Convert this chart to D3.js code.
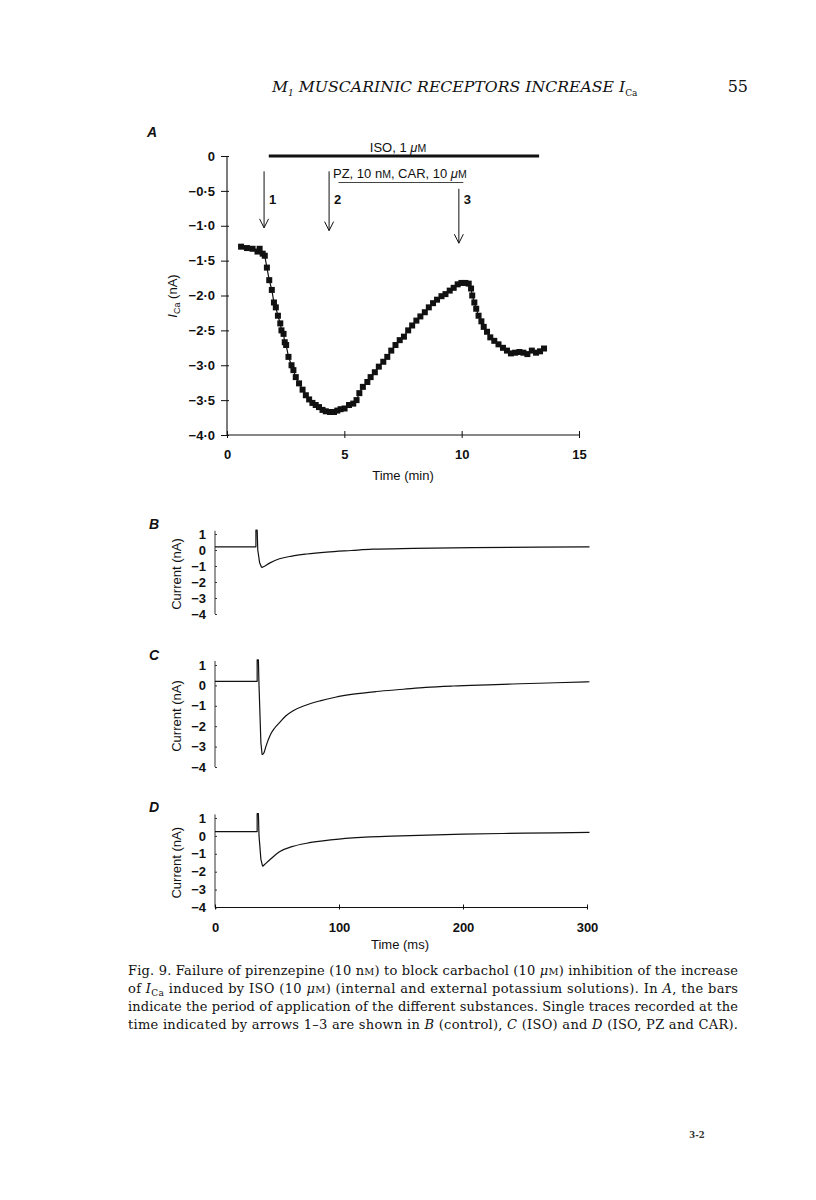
<!DOCTYPE html>
<html><head><meta charset="utf-8">
<script src="https://cdn.jsdelivr.net/npm/d3@7"></script>
<style>
body{margin:0;background:#fff;}
svg{display:block;}
.sans{font-family:"Liberation Sans",Arial,sans-serif;}
.serif{font-family:"DejaVu Serif",serif;}
</style></head>
<body>
<svg id="c" width="816" height="1200"></svg>
<script>
// ---------- Panel A data: I_Ca (nA) vs time (min) ----------
const aTime = [0.6,0.85,1.09,1.3,1.39,1.52,1.61,1.7,1.8,1.91,2.0,2.08,2.17,2.27,2.32,2.41,2.46,2.52,2.62,2.75,2.83,2.93,3.07,3.22,3.36,3.5,3.64,3.78,3.92,4.07,4.21,4.39,4.56,4.7,4.84,5.01,5.2,5.38,5.52,5.64,5.79,5.98,6.12,6.3,6.47,6.66,6.83,7.0,7.18,7.36,7.54,7.72,7.89,8.07,8.24,8.43,8.6,8.78,8.95,9.14,9.31,9.49,9.66,9.83,9.99,10.16,10.3,10.4,10.45,10.54,10.62,10.72,10.84,10.94,11.08,11.22,11.39,11.57,11.76,11.93,12.1,12.28,12.46,12.63,12.8,12.99,13.17,13.34,13.51];
const aCurrent = [-1.3,-1.32,-1.33,-1.37,-1.33,-1.4,-1.43,-1.6,-1.78,-1.92,-2.1,-2.17,-2.29,-2.4,-2.5,-2.55,-2.67,-2.71,-2.88,-3.0,-3.07,-3.17,-3.26,-3.35,-3.43,-3.49,-3.54,-3.57,-3.6,-3.64,-3.66,-3.67,-3.67,-3.65,-3.63,-3.62,-3.57,-3.55,-3.5,-3.4,-3.31,-3.24,-3.17,-3.1,-3.02,-2.95,-2.88,-2.79,-2.71,-2.64,-2.59,-2.5,-2.43,-2.36,-2.3,-2.24,-2.17,-2.11,-2.06,-2.01,-1.98,-1.93,-1.89,-1.84,-1.82,-1.82,-1.83,-1.9,-2.0,-2.1,-2.19,-2.29,-2.37,-2.45,-2.52,-2.6,-2.65,-2.7,-2.75,-2.79,-2.83,-2.82,-2.81,-2.82,-2.84,-2.79,-2.82,-2.8,-2.76];
const aYTicks = [0,-0.5,-1.0,-1.5,-2.0,-2.5,-3.0,-3.5,-4.0];
const aXTicks = [0,5,10,15];
const isoBar = [1.78,13.3];      // ISO, 1 µM application (min)
const pzBar = [4.75,10.07];      // PZ + CAR application (min)
const arrowTimes = [1.58,4.35,9.88];
const arrowLabels = ["1","2","3"];

// ---------- Panels B, C, D: single traces (ms, nA) ----------
const bTime = [0,33,33,34,34.5,36,37.6,40,44,52,62,74,90,110,127,160,208,260,302];
const bCurrent = [0.2,0.2,1.25,1.25,0,-0.8,-1.1,-1.02,-0.82,-0.55,-0.38,-0.25,-0.13,-0.03,0.05,0.1,0.15,0.18,0.2];
const cTime = [0,34,34,35,35.5,37,38,39.5,41,44.4,48,52.4,57,63,72,84.7,97,111.5,130,152,170,192,220,246,275,302];
const cCurrent = [0.2,0.2,1.25,1.25,0,-2.8,-3.4,-3.3,-3.0,-2.45,-2.1,-1.8,-1.5,-1.24,-1.0,-0.76,-0.58,-0.43,-0.3,-0.19,-0.1,-0.03,0.03,0.08,0.13,0.18];
const dTime = [0,34,34,35,35.5,37,38.4,40,44,52,62,74,87,100,125,150,200,250,302];
const dCurrent = [0.24,0.24,1.25,1.25,0,-1.3,-1.7,-1.6,-1.35,-0.88,-0.6,-0.41,-0.28,-0.18,-0.06,0.0,0.1,0.15,0.2];
const traceYTicks = [1,0,-1,-2,-3,-4];
const traceXTicks = [0,100,200,300];

const captionLines = [
  [["Fig. 9. Failure of pirenzepine (10 n"],["M","sc"],[") to block carbachol (10 "],["μ","it"],["M","sc"],[") inhibition of the increase"]],
  [["of "],["I","it"],["Ca","sub"],[" induced by ISO (10 "],["μ","it"],["M","sc"],[") (internal and external potassium solutions). In "],["A","it"],[", the bars"]],
  [["indicate the period of application of the different substances. Single traces recorded at the"]],
  [["time indicated by arrows 1–3 are shown in "],["B","it"],[" (control), "],["C","it"],[" (ISO) and "],["D","it"],[" (ISO, PZ and CAR)."]]
];

const svg = d3.select("#c");
const ink = "#111";
const SANS = "Liberation Sans,Arial,sans-serif";

// ---------- header ----------
const hdr = svg.append("text").attr("class","serif").attr("x",272).attr("y",92)
  .attr("font-size",15.7).attr("font-style","italic").attr("fill",ink);
hdr.append("tspan").text("M");
hdr.append("tspan").attr("font-size",9).attr("dy",4).text("1");
hdr.append("tspan").attr("dy",-4).text(" MUSCARINIC RECEPTORS INCREASE I");
hdr.append("tspan").attr("font-size",9).attr("dy",4).attr("font-style","normal").text("Ca");
svg.append("text").attr("class","serif").attr("x",748).attr("y",92).attr("text-anchor","end")
  .attr("font-size",16).attr("fill",ink).text("55");

// ---------- Panel A ----------
const xA = d3.scaleLinear().domain([0,15]).range([227,579]);
const yA = d3.scaleLinear().domain([0,-4]).range([156,435]);
const fmtDot = d => d===0 ? "0" : ("−" + Math.abs(d).toFixed(1).replace(".","·"));

const gA = svg.append("g").attr("class","sans");
gA.append("text").attr("x",147).attr("y",137).attr("font-size",14).attr("font-weight","bold")
  .attr("font-style","italic").attr("fill",ink).text("A");

const yAxA = gA.append("g").attr("transform",`translate(${xA(0)},0)`)
  .call(d3.axisLeft(yA).tickValues(aYTicks).tickFormat(fmtDot).tickSize(6).tickPadding(6));
yAxA.select(".domain").attr("stroke",ink).attr("stroke-width",1.1).attr("d",`M0,${yA(0)}V${yA(-4)}`);
yAxA.selectAll(".tick line").attr("stroke",ink).attr("x2",-6).attr("x1",2);
yAxA.selectAll(".tick text").attr("font-size",13).attr("font-weight","bold").attr("fill",ink).attr("font-family",SANS);

const xAxA = gA.append("g").attr("transform",`translate(0,${yA(-4)})`)
  .call(d3.axisBottom(xA).tickValues(aXTicks).tickFormat(d3.format("d")).tickSize(0).tickPadding(15));
xAxA.select(".domain").attr("stroke",ink).attr("stroke-width",1.1).attr("d",`M${xA(0)},0H${xA(15)}`);
xAxA.selectAll(".tick text").attr("font-size",13).attr("fill",ink).attr("font-weight","bold").attr("font-family",SANS);
xAxA.selectAll(".tick").append("line").attr("y1",-4).attr("y2",3).attr("stroke",ink);
gA.append("text").attr("x",403).attr("y",480).attr("text-anchor","middle").attr("font-size",13).attr("fill",ink).text("Time (min)");

const yl = gA.append("text").attr("transform","translate(177,296) rotate(-90)").attr("text-anchor","middle")
  .attr("font-size",13).attr("fill",ink);
yl.append("tspan").attr("font-style","italic").text("I");
yl.append("tspan").attr("font-size",9).attr("dy",3).text("Ca");
yl.append("tspan").attr("dy",-3).text(" (nA)");

// bars
gA.append("line").attr("x1",xA(isoBar[0])).attr("x2",xA(isoBar[1])).attr("y1",yA(0)).attr("y2",yA(0))
  .attr("stroke",ink).attr("stroke-width",3);
gA.append("line").attr("x1",xA(pzBar[0])).attr("x2",xA(pzBar[1])).attr("y1",yA(-0.38)).attr("y2",yA(-0.38))
  .attr("stroke","#444").attr("stroke-width",1.1);
const iso = gA.append("text").attr("x",398).attr("y",152).attr("text-anchor","middle").attr("font-size",13).attr("fill",ink);
iso.append("tspan").text("ISO, 1 ");
iso.append("tspan").attr("font-style","italic").text("μ");
iso.append("tspan").attr("font-size",10.5).text("M");
const pz = gA.append("text").attr("x",333).attr("y",178).attr("font-size",13).attr("fill",ink);
pz.append("tspan").text("PZ, 10 n");
pz.append("tspan").attr("font-size",10.5).text("M");
pz.append("tspan").text(", CAR, 10 ");
pz.append("tspan").attr("font-style","italic").text("μ");
pz.append("tspan").attr("font-size",10.5).text("M");

// arrows
const arrTop = [-0.22,-0.22,-0.47], arrBot = [-1.03,-1.07,-1.25];
arrowTimes.forEach((t,i)=>{
  const x = xA(t), y1 = yA(arrTop[i]), y2 = yA(arrBot[i]);
  gA.append("line").attr("x1",x).attr("x2",x).attr("y1",y1).attr("y2",y2).attr("stroke",ink).attr("stroke-width",1);
  gA.append("path").attr("d",`M${x-4.5},${y2-9}L${x},${y2}L${x+4.5},${y2-9}`).attr("fill","none").attr("stroke",ink).attr("stroke-width",1);
  gA.append("text").attr("x",x+5).attr("y",204).attr("font-size",13).attr("font-weight","bold").attr("fill",ink).text(arrowLabels[i]);
});

// data
const aData = aTime.map((t,i)=>({t,v:aCurrent[i]}));
gA.append("path").datum(aData).attr("d",d3.line().x(d=>xA(d.t)).y(d=>yA(d.v)))
  .attr("fill","none").attr("stroke",ink).attr("stroke-width",1.2);
gA.selectAll("rect.pt").data(aData).join("rect").attr("class","pt")
  .attr("x",d=>xA(d.t)-3).attr("y",d=>yA(d.v)-3).attr("width",6).attr("height",6).attr("fill",ink);

// ---------- Panels B, C, D ----------
const xT = d3.scaleLinear().domain([0,300]).range([215,587]);
const panels = [
  {lab:"B", time:bTime, cur:bCurrent, top:534, bot:614, labY:529},
  {lab:"C", time:cTime, cur:cCurrent, top:665, bot:767, labY:660},
  {lab:"D", time:dTime, cur:dCurrent, top:818, bot:907.5, labY:812}
];
panels.forEach((p,pi)=>{
  const y = d3.scaleLinear().domain([1,-4]).range([p.top,p.bot]);
  const g = svg.append("g").attr("class","sans");
  g.append("text").attr("x",149).attr("y",p.labY).attr("font-size",14).attr("font-weight","bold")
    .attr("font-style","italic").attr("fill",ink).text(p.lab);
  const ax = g.append("g").attr("transform",`translate(${xT(0)},0)`)
    .call(d3.axisLeft(y).tickValues(traceYTicks).tickFormat(d=>d<0?"−"+Math.abs(d):String(d)).tickSize(0).tickPadding(9));
  ax.select(".domain").attr("stroke","#333").attr("stroke-width",1).attr("d",`M0,${y(1.2)}V${y(-4)}`);
  ax.selectAll(".tick").append("line").attr("x1",0).attr("x2",2).attr("stroke","#333");
  ax.selectAll(".tick text").attr("font-size",13).attr("font-weight","bold").attr("fill",ink).attr("font-family",SANS);
  g.append("text").attr("transform",`translate(181,${(y(1)+y(-4))/2}) rotate(-90)`).attr("text-anchor","middle")
    .attr("font-size",13).attr("fill",ink).text("Current (nA)");
  const data = p.time.map((t,i)=>({t,v:p.cur[i]}));
  // trough index: minimum current
  const k = d3.minIndex(data, d=>d.v);
  const lineLin = d3.line().x(d=>xT(d.t)).y(d=>y(d.v));
  const lineSm = d3.line().x(d=>xT(d.t)).y(d=>y(d.v)).curve(d3.curveMonotoneX);
  g.append("path").datum(data.slice(0,k+1)).attr("d",lineLin)
    .attr("fill","none").attr("stroke",ink).attr("stroke-width",1.2).attr("stroke-linejoin","round");
  g.append("path").datum(data.slice(k)).attr("d",lineSm)
    .attr("fill","none").attr("stroke",ink).attr("stroke-width",1.2);
  if(pi===2){
    const xa = g.append("g").attr("transform",`translate(0,${y(-4)})`)
      .call(d3.axisBottom(xT).tickValues(traceXTicks).tickFormat(d3.format("d")).tickSize(0).tickPadding(15));
    xa.select(".domain").attr("stroke",ink).attr("stroke-width",1).attr("d",`M${xT(0)},0H${xT(300)}`);
    xa.selectAll(".tick").append("line").attr("y1",-3).attr("y2",2).attr("stroke",ink);
    xa.selectAll(".tick text").attr("font-size",13).attr("font-weight","bold").attr("fill",ink).attr("font-family",SANS);
    g.append("text").attr("x",400).attr("y",949).attr("text-anchor","middle").attr("font-size",13).attr("fill",ink).text("Time (ms)");
  }
});

// ---------- caption ----------
captionLines.forEach((line,i)=>{
  const t = svg.append("text").attr("class","serif").attr("x",128).attr("y",975+i*18)
    .attr("font-size",13).attr("fill",ink).attr("textLength",610).attr("lengthAdjust","spacing");
  let sub = false;
  line.forEach(([s,kind])=>{
    const ts = t.append("tspan").text(s);
    if(sub){ ts.attr("dy",-3); sub=false; }
    if(kind==="it") ts.attr("font-style","italic");
    if(kind==="sc") ts.attr("font-size",9.8);
    if(kind==="sub"){ ts.attr("font-size",9).attr("dy",3); sub=true; }
  });
});
svg.append("text").attr("class","serif").attr("x",697).attr("y",1138).attr("text-anchor","middle")
  .attr("font-size",8.5).attr("font-weight","bold").attr("fill","#333").text("3-2");
</script>
</body></html>
